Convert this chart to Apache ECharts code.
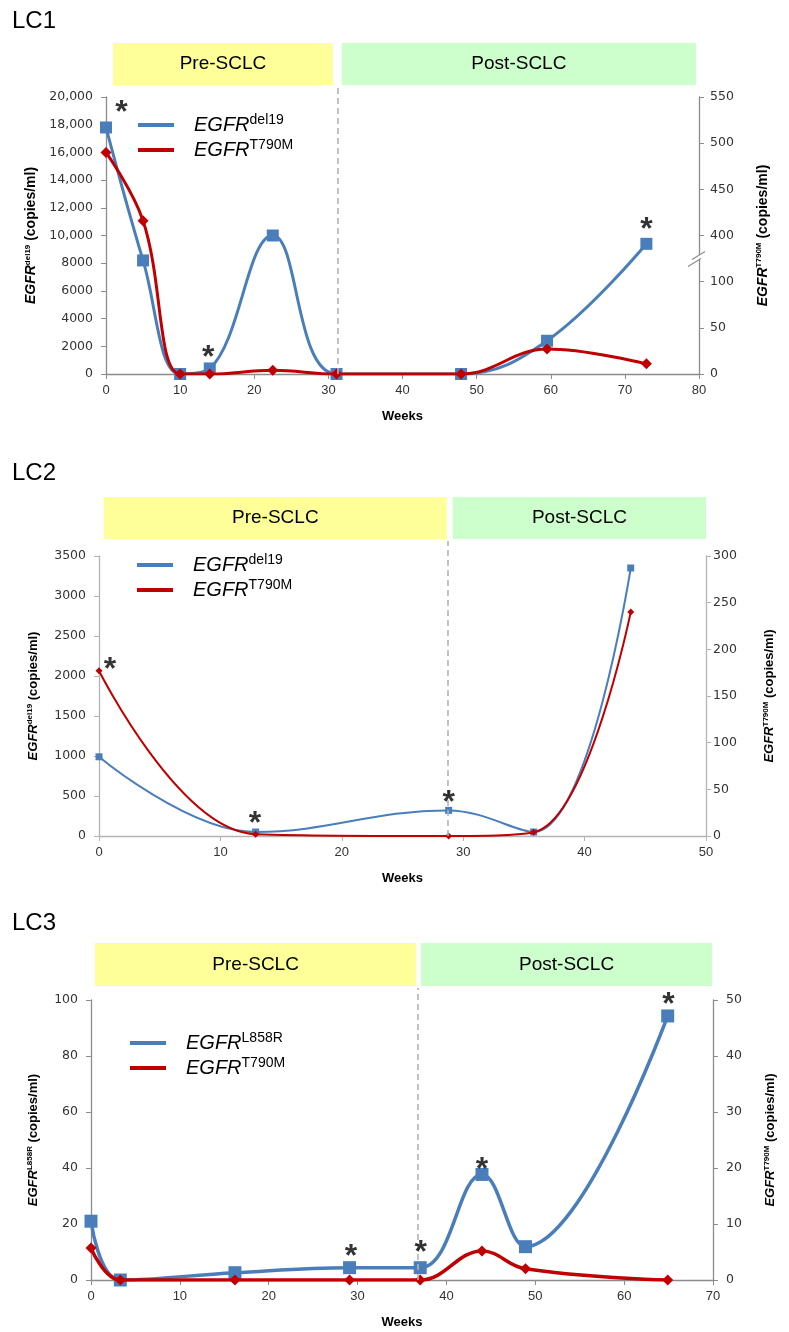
<!DOCTYPE html>
<html><head><meta charset="utf-8">
<script src="https://cdn.jsdelivr.net/npm/echarts@6/dist/echarts.min.js"></script>
<style>html,body{margin:0;padding:0;background:#fff}#c{width:789px;height:1332px}</style>
</head><body><div id="c"></div>
<script>
// ---------------- DATA ----------------
const phaseNames = ['Pre-SCLC', 'Post-SCLC'];

const lc1Weeks  = [0, 5, 10, 14, 22.5, 31.1, 47.9, 59.5, 72.9];
const lc1Del19  = [17800, 8200, 0, 400, 10000, 0, 0, 2400, 9400];
const lc1T790M  = [490, 416, 0, 0, 4, 0, 0, 27, 11];
const lc1StarWeeks = [2.1, 13.8, 72.9];
const lc1StarVals  = [19400, 1730, 10950];
const lc1Spans  = [[0.95, 30.6], [31.8, 79.6]];
const lc1Switch = 31.2;
const lc1LeftTicks  = [0, 20000, 2000];
const lc1RightTicks = [0, 550, 50];

const lc2Weeks  = [0, 12.9, 28.8, 35.8, 43.8];
const lc2Del19  = [990, 50, 320, 50, 3350];
const lc2T790M  = [177, 2, 0, 4, 240];
const lc2StarWeeks = [0.9, 12.85, 28.8];
const lc2StarVals  = [2175, 250, 512];
const lc2Spans  = [[0.4, 28.65], [29.15, 50]];
const lc2Switch = 28.75;
const lc2LeftTicks  = [0, 3500, 500];
const lc2RightTicks = [0, 300, 50];

const lc3Weeks  = [0, 3.3, 16.2, 29.1, 37.05, 44.0, 48.9, 64.9];
const lc3L858R  = [21, 0, 2.6, 4.4, 4.4, 37.7, 11.9, 94.3];
const lc3T790M  = [5.7, 0, 0, 0, 0, 5.2, 2.0, 0];
const lc3StarWeeks = [29.25, 37.1, 44.0, 65.0];
const lc3StarVals  = [11.1, 12.5, 42.1, 101];
const lc3Spans  = [[0.45, 36.6], [37.15, 69.9]];
const lc3Switch = 36.8;
const lc3LeftTicks  = [0, 100, 20];
const lc3RightTicks = [0, 50, 10];

// ---------------- STYLE / LAYOUT ----------------
const BLUE = '#4a7ebb', RED = '#c00000';
const FONT = 'Liberation Sans';
const phaseColors = ['#ffff99', '#ccffcc'];

// LC1 right axis is broken: 0..150 shown as is, 400..550 shifted down by 250
const lc1Fwd = v => v <= 150 ? v : v - 250;
const lc1Lab = v => v <= 100 ? String(v) : String(v + 250);

const panels = [
  {title:'LC1', titleTop:9, weeks:lc1Weeks, a:lc1Del19, b:lc1T790M, aSup:'del19', bSup:'T790M',
   starW:lc1StarWeeks, starV:lc1StarVals, spans:lc1Spans, sw:lc1Switch, xMax:80,
   yl:lc1LeftTicks, yr:[0, 300, 50], rFwd:lc1Fwd, rLab:lc1Lab,
   grid:{left:106, top:97, width:593, height:277}, head:{top:43, height:42},
   legend:{left:138, top:113}, symA:12, symB:11, lw:3, nameSize:14, lGap:64, rGap:56, rMargin:11,
   lFmt: v => v >= 10000 ? (v/1000) + ',000' : String(v), axisColor:'#8c8c8c'},
  {title:'LC2', titleTop:461, weeks:lc2Weeks, a:lc2Del19, b:lc2T790M, aSup:'del19', bSup:'T790M',
   starW:lc2StarWeeks, starV:lc2StarVals, spans:lc2Spans, sw:lc2Switch, xMax:50,
   yl:lc2LeftTicks, yr:lc2RightTicks, rFwd:v=>v, rLab:v=>String(v),
   grid:{left:99, top:556, width:607, height:280}, head:{top:497, height:42},
   legend:{left:137, top:553}, symA:7, symB:7, lw:2, nameSize:13, lGap:58, rGap:56, rMargin:7,
   lFmt: v => String(v), axisColor:'#b4b4b4'},
  {title:'LC3', titleTop:911, weeks:lc3Weeks, a:lc3L858R, b:lc3T790M, aSup:'L858R', bSup:'T790M',
   starW:lc3StarWeeks, starV:lc3StarVals, spans:lc3Spans, sw:lc3Switch, xMax:70,
   yl:lc3LeftTicks, yr:lc3RightTicks, rFwd:v=>v, rLab:v=>String(v),
   grid:{left:91, top:1000, width:622, height:280}, head:{top:943, height:43},
   legend:{left:130, top:1031}, symA:13, symB:11, lw:3.5, nameSize:13, lGap:50, rGap:50, rMargin:13,
   lFmt: v => String(v), axisColor:'#8c8c8c'}
];

const chart = echarts.init(document.getElementById('c'), null, {renderer:'canvas'});
const option = {animation:false, backgroundColor:'#fff', title:[], grid:[], xAxis:[], yAxis:[], series:[], legend:[]};

function axisName(sup, size) {
  return {
    text: '{b|EGFR}{s|' + sup + '}{n| (copies/ml)}',
    rich: {
      b:{fontFamily:FONT, fontWeight:'bold', fontStyle:'italic', fontSize:size, lineHeight:size+2, color:'#000'},
      s:{fontFamily:FONT, fontWeight:'bold', fontSize:Math.round(size*0.6), lineHeight:Math.round(size*0.6), verticalAlign:'top', color:'#000'},
      n:{fontFamily:FONT, fontWeight:'bold', fontSize:size, lineHeight:size+2, color:'#000'}
    }
  };
}

panels.forEach((p, k) => {
  const g = option.grid.length;
  const G = p.grid;
  const headBottom = p.head.top + p.head.height;
  option.grid.push({left:G.left, top:G.top, width:G.width, height:G.height});
  option.grid.push({left:G.left, top:p.head.top, width:G.width, height:p.head.height});
  option.grid.push({left:G.left, top:headBottom + 2, width:G.width, height:G.top + G.height - headBottom - 2});

  option.title.push({text:p.title, left:12, top:p.titleTop, padding:0,
    textStyle:{fontFamily:FONT, fontSize:24, fontWeight:'normal', color:'#000'}});

  const x = option.xAxis.length;
  const axLine = {show:true, lineStyle:{color:p.axisColor, width:1.3}};
  option.xAxis.push({gridIndex:g, type:'value', min:0, max:p.xMax, interval:10,
    name:'Weeks', nameLocation:'middle', nameGap:36,
    nameTextStyle:{fontFamily:FONT, fontWeight:'bold', fontSize:13, color:'#000'},
    axisLine:axLine, axisTick:{show:true, length:5, lineStyle:{color:p.axisColor}},
    splitLine:{show:false},
    axisLabel:{fontFamily:FONT, fontSize:13, color:'#333', margin:10}});
  option.xAxis.push({gridIndex:g+1, type:'value', min:0, max:p.xMax, show:false});
  option.xAxis.push({gridIndex:g+2, type:'value', min:0, max:p.xMax, show:false});

  const y = option.yAxis.length;
  const nl = axisName(p.aSup, p.nameSize), nr = axisName(p.bSup, p.nameSize);
  option.yAxis.push({gridIndex:g, type:'value', position:'left', min:p.yl[0], max:p.yl[1], interval:p.yl[2],
    name:nl.text, nameLocation:'middle', nameRotate:90, nameGap:p.lGap, nameTextStyle:{rich:nl.rich},
    axisLine:axLine, axisTick:{show:true, length:5, lineStyle:{color:p.axisColor}},
    splitLine:{show:false},
    axisLabel:{fontFamily:'DejaVu Sans', fontSize:12.5, color:'#333', margin:13, formatter:p.lFmt}});
  option.yAxis.push({gridIndex:g, type:'value', position:'right', min:p.yr[0], max:p.yr[1], interval:p.yr[2],
    name:nr.text, nameLocation:'middle', nameRotate:90, nameGap:p.rGap, nameTextStyle:{rich:nr.rich},
    axisLine:axLine, axisTick:{show:true, length:5, lineStyle:{color:p.axisColor}},
    splitLine:{show:false},
    axisLabel:{fontFamily:'DejaVu Sans', fontSize:12.5, color:'#333', margin:p.rMargin, formatter:p.rLab}});
  option.yAxis.push({gridIndex:g+1, type:'value', min:0, max:1, show:false});
  option.yAxis.push({gridIndex:g+2, type:'value', min:0, max:1, show:false});

  const nameA = p.title + ' ' + p.aSup, nameB = p.title + ' ' + p.bSup;
  option.series.push({name:nameA, type:'line', xAxisIndex:x, yAxisIndex:y, smooth:0.4,
    data:p.weeks.map((w, i) => [w, p.a[i]]),
    symbol:'rect', symbolSize:p.symA, showSymbol:true,
    lineStyle:{color:BLUE, width:p.lw}, itemStyle:{color:BLUE}, z:3, silent:true});
  option.series.push({name:nameB, type:'line', xAxisIndex:x, yAxisIndex:y+1, smooth:0.4,
    data:p.weeks.map((w, i) => [w, p.rFwd(p.b[i])]),
    symbol:'diamond', symbolSize:p.symB, showSymbol:true,
    lineStyle:{color:RED, width:p.lw}, itemStyle:{color:RED}, z:4, silent:true});
  option.series.push({type:'scatter', xAxisIndex:x, yAxisIndex:y, clip:false, silent:true, z:6,
    data:p.starW.map((w, i) => [w, p.starV[i]]),
    symbolSize:1, itemStyle:{color:'rgba(0,0,0,0)'},
    label:{show:true, position:'inside', formatter:'*', offset:[0, 8],
      fontFamily:FONT, fontWeight:'bold', fontSize:32, color:'#000'}});
  option.series.push({type:'line', xAxisIndex:x+1, yAxisIndex:y+2, data:[], silent:true,
    markArea:{silent:true,
      label:{show:true, position:'inside', fontFamily:FONT, fontSize:19, color:'#000'},
      data:p.spans.map((s, i) => [{name:phaseNames[i], xAxis:s[0], itemStyle:{color:phaseColors[i]}}, {xAxis:s[1]}])}});
  option.series.push({type:'line', xAxisIndex:x+2, yAxisIndex:y+3, data:[], silent:true,
    markLine:{silent:true, symbol:['none','none'], label:{show:false},
      lineStyle:{type:[6,4], color:'#b4b4b4', width:1.6},
      data:[{xAxis:p.sw}]}});

  option.legend.push({data:[nameA, nameB], left:p.legend.left, top:p.legend.top, orient:'vertical',
    icon:'rect', itemWidth:36, itemHeight:4, itemGap:3, selectedMode:false, padding:0,
    formatter: n => '{i|EGFR}{s|' + n.split(' ')[1] + '}',
    textStyle:{rich:{
      i:{fontFamily:FONT, fontStyle:'italic', fontSize:20, lineHeight:24, color:'#000', padding:[0,0,0,15]},
      s:{fontFamily:FONT, fontSize:14, lineHeight:12, verticalAlign:'top', color:'#000'}
    }}});
});

chart.setOption(option);

// axis break marker on LC1 right axis
const bx = chart.convertToPixel({xAxisIndex:0}, 80);
const by = chart.convertToPixel({yAxisIndex:1}, 124);
chart.setOption({graphic:[
  {type:'polygon', silent:true, z:100,
   shape:{points:[[bx-11, by+7], [bx+2, by-1], [bx+6, by-8], [bx-7, by]]},
   style:{fill:'#fff'}},
  {type:'line', silent:true, z:101, shape:{x1:bx-11, y1:by+7, x2:bx+2, y2:by-1}, style:{stroke:'#8c8c8c', lineWidth:1.2}},
  {type:'line', silent:true, z:101, shape:{x1:bx-7, y1:by, x2:bx+6, y2:by-8}, style:{stroke:'#8c8c8c', lineWidth:1.2}}
]});
</script></body></html>
